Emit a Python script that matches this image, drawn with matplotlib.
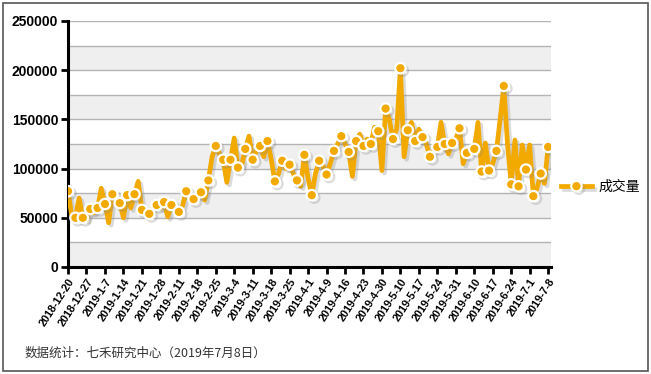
import matplotlib
matplotlib.use('Agg')
import matplotlib.pyplot as plt
import matplotlib.patheffects as pe
from matplotlib.patches import Rectangle
import numpy as np

plt.rcParams['font.family'] = ['Liberation Sans', 'Noto Sans CJK SC', 'DejaVu Sans']

# 成交量, one value per trading day, 2018-12-20 .. 2019-7-8
volume = [
    77000, 52000, 50000, 70000, 50000, 48000, 59000, 55000, 60000, 80000,
    64000, 45000, 74000, 70000, 65000, 50000, 73000, 60000, 74000, 87000,
    58000, 55000, 54000, 60000, 63000, 60000, 66000, 51000, 63000, 60000,
    56000, 62000, 77000, 72000, 69000, 72000, 76000, 68000, 88000, 112000,
    123000, 115000, 109000, 86000, 109000, 131000, 101000, 103000, 120000, 133000,
    109000, 118000, 123000, 112000, 128000, 110000, 87000, 95000, 108000, 100000,
    104000, 95000, 88000, 82000, 114000, 90000, 73000, 95000, 108000, 103000,
    94000, 105000, 118000, 125000, 133000, 125000, 117000, 92000, 128000, 135000,
    123000, 130000, 125000, 142000, 138000, 98000, 161000, 150000, 130000, 140000,
    202000, 112000, 139000, 147000, 128000, 140000, 132000, 125000, 112000, 118000,
    122000, 147000, 125000, 115000, 126000, 130000, 141000, 105000, 116000, 120000,
    120000, 147000, 97000, 126000, 98000, 105000, 118000, 150000, 184000, 125000,
    84000, 129000, 82000, 124000, 99000, 124000, 72000, 80000, 95000, 85000,
    122000,
]

tick_labels = [
    '2018-12-20', '2018-12-27', '2019-1-7', '2019-1-14', '2019-1-21', '2019-1-28',
    '2019-2-11', '2019-2-18', '2019-2-25', '2019-3-4', '2019-3-11', '2019-3-18',
    '2019-3-25', '2019-4-1', '2019-4-9', '2019-4-16', '2019-4-23', '2019-4-30',
    '2019-5-10', '2019-5-17', '2019-5-24', '2019-5-31', '2019-6-10', '2019-6-17',
    '2019-6-24', '2019-7-1', '2019-7-8',
]

orange = '#F2A900'

fig = plt.figure(figsize=(6.51, 3.74), dpi=100)
ax = fig.add_axes([0.1045, 0.2861, 0.742, 0.6578])

x = np.arange(len(volume))

# alternating bands + grid
for k in range(10):
    if k % 2 == 0:
        ax.axhspan(k * 25000, (k + 1) * 25000, color='#EFEFEF', zorder=0, lw=0)
    ax.axhline((k + 1) * 25000, color='#B4B4B4', lw=1, zorder=1)

shadow = [pe.SimpleLineShadow(offset=(1.8, -1.8), shadow_color='#888888', alpha=0.3),
          pe.Normal()]
ax.plot(x, volume, color=orange, lw=3.4, solid_joinstyle='round',
        marker='o', markevery=2, markersize=7.5, markerfacecolor=orange,
        markeredgecolor='white', markeredgewidth=1.6,
        label='成交量', zorder=3, path_effects=shadow)

ax.set_xlim(0, 130.8)
ax.set_ylim(0, 250000)
ax.set_yticks(np.arange(0, 250001, 50000))
ax.set_yticklabels([str(v) for v in range(0, 250001, 50000)],
                   fontsize=10, fontweight='bold')
ax.set_xticks(x[::5])
ax.set_xticklabels(tick_labels, rotation=57, ha='right', rotation_mode='anchor',
                   fontsize=7.8, fontweight='bold')

for s in ['top', 'right']:
    ax.spines[s].set_visible(False)
for s in ['left', 'bottom']:
    ax.spines[s].set_linewidth(2.2)
    ax.spines[s].set_color('black')
ax.tick_params(axis='both', direction='out', length=5, width=2, color='black', pad=2)

fig.legend(loc='center left', bbox_to_anchor=(0.862, 0.5), frameon=False,
           borderaxespad=0, borderpad=0, handlelength=2.2, handletextpad=0.5,
           fontsize=10)

fig.text(0.038, 0.045, '数据统计：七禾研究中心（2019年7月8日）', fontsize=9,
         color='#333333', family=['Noto Sans CJK SC', 'DejaVu Sans'])

fig.patches.append(Rectangle((0.004, 0.008), 0.991, 0.984, transform=fig.transFigure,
                             fill=False, edgecolor='#555555', lw=1.2))

fig.savefig('out.png', dpi=100)
